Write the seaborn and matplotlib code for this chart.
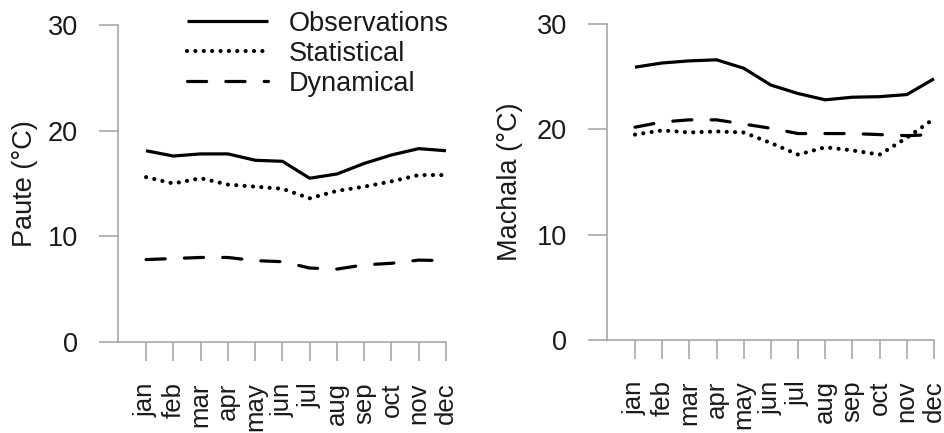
import numpy as np
import pandas as pd
import matplotlib.pyplot as plt
import seaborn as sns

# Datos mensuales
months = ['jan', 'feb', 'mar', 'apr', 'may', 'jun',
          'jul', 'aug', 'sep', 'oct', 'nov', 'dec']
series = ['Observations', 'Statistical', 'Dynamical']

paute_obs = [18.1, 17.6, 17.8, 17.8, 17.2, 17.1, 15.5, 15.9, 16.9, 17.7, 18.3, 18.1]
paute_stat = [15.6, 15.0, 15.5, 14.9, 14.7, 14.5, 13.6, 14.3, 14.7, 15.2, 15.8, 15.8]
paute_dyn = [7.8, 7.9, 8.0, 8.0, 7.7, 7.6, 7.0, 6.9, 7.3, 7.45, 7.75, 7.7]

machala_obs = [25.9, 26.3, 26.5, 26.6, 25.8, 24.2, 23.4, 22.8, 23.05, 23.1, 23.3, 24.8]
machala_stat = [19.5, 19.9, 19.7, 19.8, 19.7, 18.7, 17.6, 18.3, 18.0, 17.6, 19.2, 21.0]
machala_dyn = [20.2, 20.7, 20.9, 20.9, 20.5, 20.1, 19.6, 19.6, 19.6, 19.5, 19.4, 19.5]

stations = {
    'Paute (°C)': [paute_obs, paute_stat, paute_dyn],
    'Machala (°C)': [machala_obs, machala_stat, machala_dyn],
}

sns.set_theme(style='ticks')
plt.rcParams['font.family'] = ['Liberation Sans', 'DejaVu Sans']

# estilo y grosor de cada serie
estilos = {'Observations': ('-', 2.3),
           'Statistical': ((0, (0.01, 2.0)), 3.0),
           'Dynamical': ((0, (6, 6)), 2.3)}

fig = plt.figure(figsize=(9.45, 4.33), dpi=100)
ax_left = fig.add_axes([118/945, 91/433, 328/945, 317/433])
ax_right = fig.add_axes([607/945, 93/433, 327/945, 316/433])
label_x = [-0.244, -0.257]

gris = '#a0a0a0'
for i, (ax, (nombre, valores)) in enumerate(zip([ax_left, ax_right], stations.items())):
    for serie, vals in zip(series, valores):
        df = pd.DataFrame({'mes': np.arange(len(months)), 'temp': vals})
        ls, lw = estilos[serie]
        sns.lineplot(data=df, x='mes', y='temp', ax=ax, color='black', lw=lw,
                     linestyle=ls, dash_capstyle='round',
                     solid_capstyle='butt', label=serie, legend=False, clip_on=False)
    ax.set_xlim(-1.03, 11)
    ax.set_ylim(0, 30)
    ax.set_yticks([0, 10, 20, 30])
    ax.set_xticks(np.arange(len(months)))
    ax.set_xticklabels(months, rotation=90)
    ax.set_xlabel('')
    ax.set_ylabel(nombre, fontsize=19.5, color='#1a1a1a')
    ax.yaxis.set_label_coords(label_x[i], 0.5)
    ax.tick_params(axis='both', direction='out', length=14, width=1.1, color=gris,
                   pad=15, labelsize=19.5, labelcolor='#1a1a1a')
    ax.tick_params(axis='x', labelsize=18.5)
    sns.despine(ax=ax)
    for lado in ['left', 'bottom']:
        ax.spines[lado].set_color(gris)
        ax.spines[lado].set_linewidth(1.1)

handles, labels = ax_left.get_legend_handles_labels()
ax_left.legend(handles, labels, loc='upper left', bbox_to_anchor=(187/945, 0.975),
               bbox_transform=fig.transFigure, frameon=False, fontsize=19.5,
               handlelength=3.0, handletextpad=0.75, labelspacing=0.15,
               borderpad=0, borderaxespad=0, labelcolor='#1a1a1a')

plt.savefig('out.png', dpi=100)
